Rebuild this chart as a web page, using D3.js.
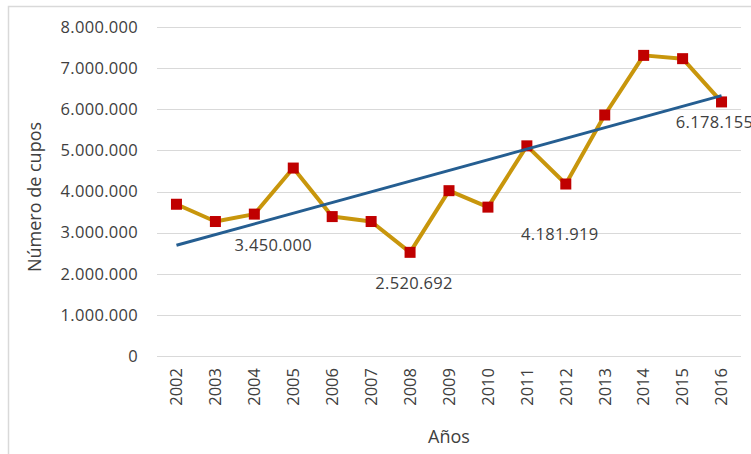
<!DOCTYPE html>
<html><head><meta charset="utf-8">
<script src="https://cdn.jsdelivr.net/npm/d3@7"></script>
<style>html,body{margin:0;padding:0;background:#fff;}svg{display:block;font-family:"Open Sans",sans-serif;}</style>
</head><body>
<svg id="c" width="751" height="454"></svg>
<script>
const years = ["2002","2003","2004","2005","2006","2007","2008","2009","2010","2011","2012","2013","2014","2015","2016"];
const cupos = [3690000,3270000,3450000,4570000,3390000,3270000,2520692,4020000,3620000,5110000,4181919,5860000,7310000,7230000,6178155];
const yTicks = [0,1000000,2000000,3000000,4000000,5000000,6000000,7000000,8000000];
const labelYears = ["2004","2008","2012","2016"];
const labelOffsets = [[19,31],[4,31],[-6,50],[-7,20]];

const svg = d3.select("#c");
const m = {l:157, r:741, t:27, b:356};
const x = d3.scaleBand().domain(years).range([m.l, m.r]);
const y = d3.scaleLinear().domain([0,8000000]).range([m.b, m.t]);
const fmt = v => d3.format(",")(v).replace(/,/g,".");
const cx = d => x(d) + x.bandwidth()/2;

svg.append("rect").attr("x",8.5).attr("y",6.5).attr("width",780).attr("height",480)
  .attr("fill","#fff").attr("stroke","#d9d9d9").attr("stroke-width",1.5);

// grid
svg.append("g").selectAll("line").data(yTicks).join("line")
  .attr("x1",m.l).attr("x2",m.r).attr("y1",d=>Math.round(y(d))+0.5).attr("y2",d=>Math.round(y(d))+0.5)
  .attr("stroke","#d9d9d9").attr("stroke-width",1.2);

// y tick labels
const yAxis = d3.axisLeft(y).tickValues(yTicks).tickFormat(fmt).tickSize(0).tickPadding(0);
const ga = svg.append("g").attr("transform","translate(138,0)").call(yAxis);
ga.select(".domain").remove();
ga.selectAll("text").attr("font-size","16.5px").attr("fill","#404040").attr("font-family","Open Sans").attr("letter-spacing","0.3px");

// x tick labels
const xAxis = d3.axisBottom(x).tickSize(0).tickPadding(0);
const gx = svg.append("g").attr("transform","translate(0,368)").call(xAxis);
gx.select(".domain").remove();
gx.selectAll("text").attr("font-size","16.5px").attr("fill","#404040").attr("font-family","Open Sans")
  .attr("transform","rotate(-90)").attr("text-anchor","end").attr("dy","0.35em").attr("x",0).attr("y",0);

// main line
const line = d3.line().x((d,i)=>cx(years[i])).y(d=>y(d));
svg.append("path").datum(cupos).attr("d",line).attr("fill","none")
  .attr("stroke","#C8960C").attr("stroke-width",4).attr("stroke-linejoin","round");

// markers
const ms = 11;
svg.append("g").selectAll("rect").data(cupos).join("rect")
  .attr("x",(d,i)=>cx(years[i])-ms/2).attr("y",d=>y(d)-ms/2)
  .attr("width",ms).attr("height",ms).attr("fill","#C00000");

// linear trend (least squares)
const n = cupos.length, xs = d3.range(n);
const mx = d3.mean(xs), my = d3.mean(cupos);
const slope = d3.sum(xs,(xi)=> (xi-mx)*(cupos[xi]-my)) / d3.sum(xs,xi=>(xi-mx)**2);
const icpt = my - slope*mx;
const trend = [icpt, icpt + slope*(n-1)];
svg.append("line")
  .attr("x1",cx(years[0])).attr("y1",y(trend[0]))
  .attr("x2",cx(years[n-1])).attr("y2",y(trend[1]))
  .attr("stroke","#255E91").attr("stroke-width",3);

// data labels
labelYears.forEach((yr,k)=>{
  const i = years.indexOf(yr);
  svg.append("text").attr("x",cx(yr)+labelOffsets[k][0]).attr("y",y(cupos[i])+labelOffsets[k][1])
    .attr("text-anchor","middle").attr("dy","0.35em").attr("font-size","16.5px").attr("fill","#404040")
    .attr("letter-spacing","0.3px").text(fmt(cupos[i]));
});

// axis titles
svg.append("text").attr("transform","translate(35,197) rotate(-90)").attr("text-anchor","middle")
  .attr("dy","0.35em").attr("font-size","18px").attr("fill","#404040").text("Número de cupos");
svg.append("text").attr("x",449).attr("y",437).attr("text-anchor","middle").attr("dy","0.35em")
  .attr("font-size","18px").attr("fill","#404040").text("Años");
</script>
</body></html>
